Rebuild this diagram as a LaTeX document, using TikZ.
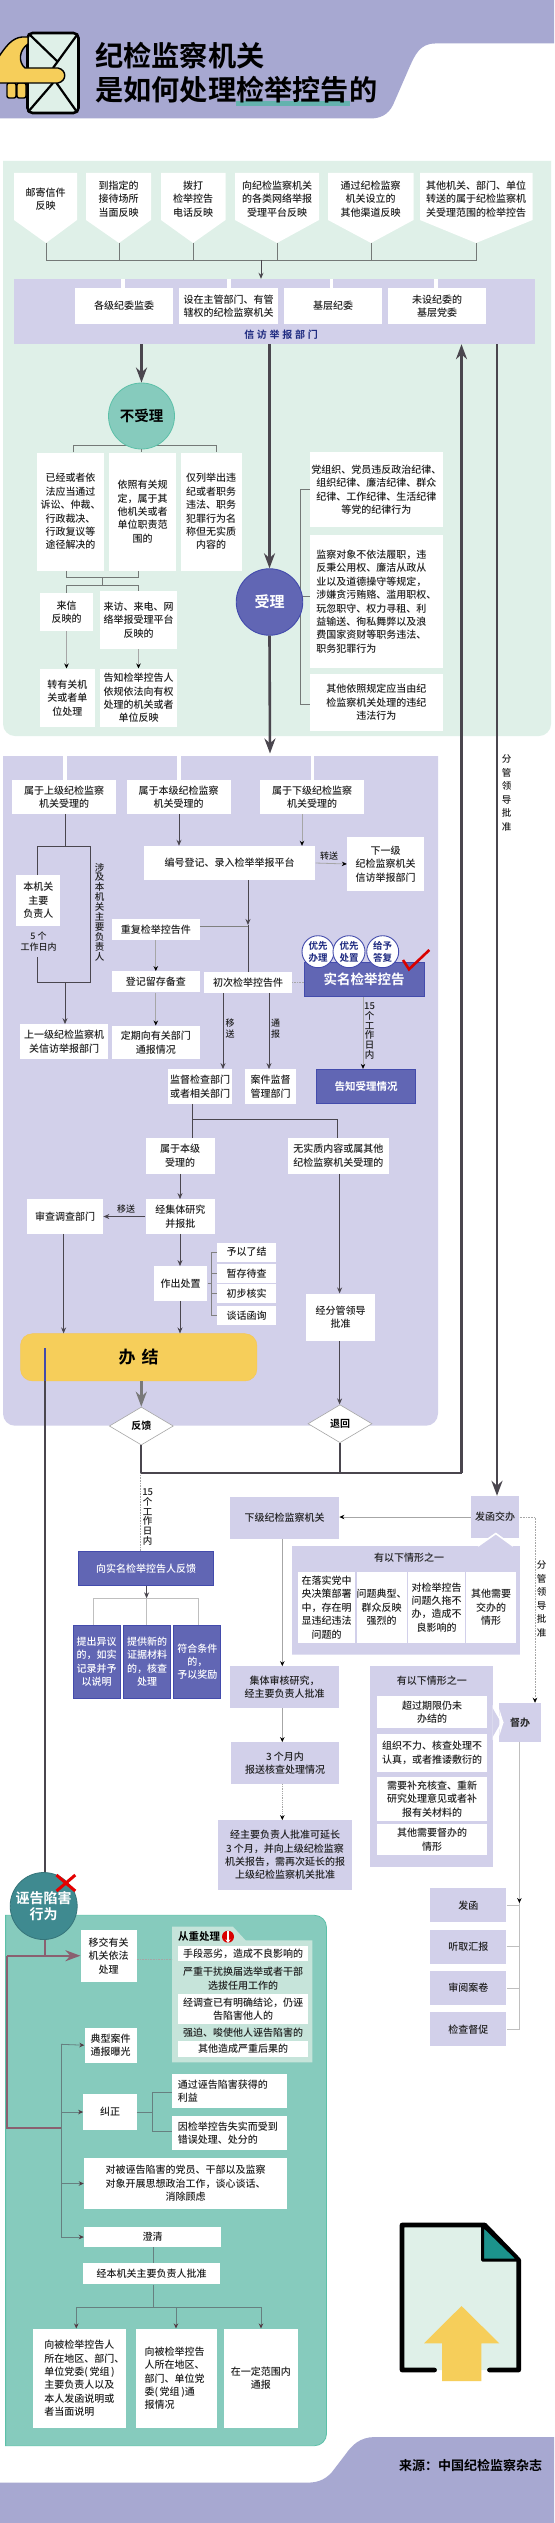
\documentclass[tikz,border=0pt]{standalone}
\usepackage{fontspec}
\setmainfont[BoldFont={Noto Sans CJK SC Bold}]{Noto Sans CJK SC Medium}
\usepackage{tikz}
\usetikzlibrary{arrows.meta, shapes.geometric, calc}
\usepackage{xcolor}

\definecolor{headfill}{HTML}{A7A8D1}
\definecolor{headedge}{HTML}{8A8AC8}
\definecolor{mintfill}{HTML}{DFF0E8}
\definecolor{lavfill}{HTML}{D2D0EA}
\definecolor{bluefill}{HTML}{6166B4}
\definecolor{blueedge}{HTML}{434BAC}
\definecolor{tealfill}{HTML}{86CBBD}
\definecolor{tealedge}{HTML}{5CC0A8}
\definecolor{palemint}{HTML}{C6E4DA}
\definecolor{goldfill}{HTML}{F6CE5A}
\definecolor{darkline}{HTML}{4A464E}
\definecolor{inkc}{HTML}{222222}
\definecolor{maroon}{HTML}{8A6070}
\definecolor{seafill}{HTML}{3F8A90}
\definecolor{navyc}{HTML}{1E2A80}

\tikzset{
  sz/.style 2 args={minimum width=#1, minimum height=#2},
  wbox/.style={fill=white},
  lbox/.style={fill=lavfill},
  bbox/.style={fill=bluefill, draw=blueedge, line width=0.9pt, text=white},
  tiny/.style={font=\fontsize{9}{11}\selectfont},
  vtext/.style={font=\fontsize{9.5}{9.9}\selectfont},
  bigarrow/.style={draw=darkline, line width=2.6pt, -{Stealth[length=15pt, width=11pt]}},
  midarrow/.style={draw=darkline, line width=1pt, -{Stealth[length=6pt, width=5pt]}},
  lightarrow/.style={draw=gray!70, line width=0.8pt, -{Stealth[length=5pt, width=4.5pt, black]}},
  thinline/.style={draw=darkline, line width=0.8pt},
  greenline/.style={draw=gray!60!mintfill!70!black, line width=0.9pt},
  dotline/.style={draw=gray!70, line width=0.6pt, densely dotted},
}

\begin{document}
\begin{tikzpicture}[x=1pt, y=-1pt,
  every node/.style={inner sep=0pt, align=center, text=inkc, font=\fontsize{10}{13.4}\selectfont}]
\useasboundingbox (0,0) rectangle (554,2523);
\fill[white] (0,0) rectangle (554,2523);

% Header band
\fill[headfill] (0,0) -- (554,0) -- (554,43.5) -- (435,43.5) .. controls (420,43.5) and (415,55) .. (410,66)
  -- (393,105) .. controls (388,115) and (380,118.5) .. (370,118.5) -- (0,118.5) -- cycle;
\fill[teal!55!mintfill] (236,101) rectangle (350,106);
\node[anchor=west, text=black, font=\fontsize{28.2}{34}\bfseries\selectfont] (title1) at (95,56) {纪检监察机关};
\node[anchor=west, text=black, font=\fontsize{28.2}{34}\bfseries\selectfont] (title2) at (95,90) {是如何处理检举控告的};

% Envelope and hand
\draw[black, line width=2.6pt, fill=mintfill, rounded corners=5pt] (27.5,33) rectangle (78.5,113);
\draw[black, line width=2.2pt] (30,35) -- (58,62) (77,35) -- (53,68) (28,112) -- (53,83) (77,112) -- (56.5,83);
\draw[black, line width=1.4pt, fill=goldfill, rounded corners=2pt] (7,83) rectangle (16,98) (17,83) rectangle (26,98);
\draw[black, line width=1.4pt, fill=goldfill] (-2,58) .. controls (6,46) and (12,38) .. (22,37) -- (28,37) -- (28,44)
  .. controls (19,50) and (18,62) .. (25,68) -- (58,68) .. controls (67,70) and (67,81) .. (58,83) -- (-2,83) -- cycle;

% Green panel
\fill[mintfill] (3,161) -- (551,161) [rounded corners=12pt] -- (551,736) -- (3,736) [sharp corners] -- cycle;

% Ways of reporting
\foreach \xa/\xb/\xt/\i in {14/77/46/1, 86/151/119/2, 161/225.5/193/3, 235/319/277/4, 328/413.5/371/5, 420/532.5/476/6} {
  \fill[white] (\xa,173) -- (\xb,173) -- (\xb,220) -- (\xt,243) -- (\xa,220) -- cycle;
  \coordinate (tip\i) at (\xt,243);
}
\node (src1) at (45.5,199) {邮寄信件\\反映};
\node (src2) at (118.5,199) {到指定的\\接待场所\\当面反映};
\node (src3) at (193.2,199) {拨打\\检举控告\\电话反映};
\node (src4) at (277,199) {向纪检监察机关\\的各类网络举报\\受理平台反映};
\node (src5) at (370.7,199) {通过纪检监察\\机关设立的\\其他渠道反映};
\node (src6) at (476.2,199) {其他机关、部门、单位\\转送的属于纪检监察机\\关受理范围的检举控告};

% Reporting department
\node[lbox, sz={521}{65}] (banner) at (274.5,311.5) {};
\foreach \xa in {121,227,329.5,434} \fill[white] (\xa,279) rectangle (\xa+3.5,288);
\node[wbox, sz={98.5}{36}] (dep1) at (124.2,306) {各级纪委监委};
\node[wbox, sz={98.5}{36}] (dep2) at (228.7,306) {设在主管部门、有管\\辖权的纪检监察机关};
\node[wbox, sz={98}{36}] (dep3) at (333,306) {基层纪委};
\node[wbox, sz={98}{36}] (dep4) at (437,306) {未设纪委的\\基层党委};
\node[text=navyc, font=\fontsize{10}{12}\bfseries\selectfont] (deplabel) at (281,334.5) {信\hspace{2.7pt}访\hspace{2.7pt}举\hspace{2.7pt}报\hspace{2.7pt}部\hspace{2.7pt}门};

% Collect the sources
\coordinate (bus) at (261,260);
\draw[greenline] (tip1) -- (tip1 |- bus) -- (tip6 |- bus) -- (tip6);
\foreach \i in {2,3,4,5} \draw[greenline] (tip\i) -- (tip\i |- bus);
\draw[midarrow] (bus) -- (bus |- banner.north);

% Not accepted
\node[wbox, sz={67}{118}] (no1) at (70.5,511.6) {已经或者依\\法应当通过\\诉讼、仲裁、\\行政裁决、\\行政复议等\\途径解决的};
\node[wbox, sz={66.5}{118}] (no2) at (142.7,511.6) {依照有关规\\定，属于其\\他机关或者\\单位职责范\\围的};
\node[wbox, sz={61}{118}] (no3) at (211,511.6) {仅列举出违\\纪或者职务\\违法、职务\\犯罪行为名\\称但无实质\\内容的};
\draw[greenline] (73,0 |- no1.north) -- (73,445) -- (216,445) -- (216,0 |- no3.north);
\node[circle, fill=tealfill, draw=tealedge, line width=0.8pt, minimum size=66pt, text=black, font=\fontsize{14.5}{16}\bfseries\selectfont] (nocase) at (141.5,416) {不受理};
\draw[greenline] (nocase.south) -- (nocase.south |- no2.north);

\node[wbox, sz={53.7}{38}] (letter) at (66.5,612) {来信\\反映的};
\node[wbox, sz={76.3}{58}] (visit) at (138.5,620) {来访、来电、网\\络举报受理平台\\反映的};
\node[wbox, sz={55.4}{58.6}] (turn) at (67.3,698) {转有关机\\关或者单\\位处理};
\node[wbox, sz={76.3}{58.6}] (tell) at (138.5,698) {告知检举控告人\\依规依法向有权\\处理的机关或者\\单位反映};
\draw[greenline] (66.5,0 |- no1.south) -- (66.5,577.5) -- (138,577.5) -- (138,0 |- no2.south);
\draw[greenline] (102,577.5) -- (102,585.3);
\draw[greenline] (letter.north) -- (66.5,585.3) -- (138,585.3) -- (138,0 |- visit.north);
\draw[lightarrow] (letter.south) -- (letter.south |- turn.north);
\draw[lightarrow] (visit.south) -- (visit.south |- tell.north);

% Accepted
\node[wbox, sz={132.8}{75}] (yes1) at (376.4,489.8) {党组织、党员违反政治纪律、\\组织纪律、廉洁纪律、群众\\纪律、工作纪律、生活纪律\\等党的纪律行为};
\node[wbox, sz={132.8}{132.4}, align=left] (yes2) at (376.4,601.5) {监察对象不依法履职，违\\反秉公用权、廉洁从政从\\业以及道德操守等规定，\\涉嫌贪污贿赂、滥用职权、\\玩忽职守、权力寻租、利\\益输送、徇私舞弊以及浪\\费国家资财等职务违法、\\职务犯罪行为};
\node[wbox, sz={132.8}{56.7}] (yes3) at (376.4,702.3) {其他依照规定应当由纪\\检监察机关处理的违纪\\违法行为};
\draw[greenline] (yes1.west) -- (300.4,0 |- yes1.west) -- (300.4,704) -- (yes3.west |- 0,704);
\draw[greenline] (300.4,596.7) -- (yes2.west |- 0,596.7);
\node[circle, fill=bluefill, draw=blueedge, line width=0.9pt, minimum size=66.5pt, text=white, font=\fontsize{15}{16}\bfseries\selectfont] (yescase) at (269.5,602) {受理};

% Main arrows of the first panel
\draw[bigarrow] (nocase.north |- banner.south) -- (nocase.north);
\draw[bigarrow] (yescase.north |- banner.south) -- (yescase.north);

% Lavender panel
\fill[lavfill] (3,756) -- (438,756) [rounded corners=12pt] -- (438,1425.7) -- (3,1425.7) [sharp corners] -- cycle;
\foreach \xa in {63,177,310.6} \fill[white] (\xa,756) rectangle (\xa+3.5,780);
\draw[bigarrow] (yescase.south) -- (270,753.5);

\node[wbox, sz={103.6}{34.3}] (upper) at (64.2,797) {属于上级纪检监察\\机关受理的};
\node[wbox, sz={104.2}{34.3}] (same) at (178.6,797) {属于本级纪检监察\\机关受理的};
\node[wbox, sz={104}{34.3}] (lower) at (312,797) {属于下级纪检监察\\机关受理的};

\node[wbox, sz={171.5}{34}] (platform) at (229.7,863) {编号登记、录入检举举报平台};
\node[wbox, sz={77}{54}] (nextdep) at (385.5,864) {下一级\\纪检监察机关\\信访举报部门};
\node[wbox, sz={44}{51}] (chief) at (38.3,900.5) {本机关\\主要\\负责人};
\node[tiny] (days5) at (38.5,942) {5 个\\工作日内};
\node[vtext] (chieflabel) at (99.6,912) {涉\\及\\本\\机\\关\\主\\要\\负\\责\\人};
\node[wbox, sz={88.5}{34.7}] (updep) at (64.2,1041.7) {上一级纪检监察机\\关信访举报部门};

\node[wbox, sz={87.6}{21}] (repeat) at (155.8,929.5) {重复检举控告件};
\node[wbox, sz={87.6}{21}] (store) at (155.8,981.8) {登记留存备查};
\node[wbox, sz={87.6}{33.6}] (notify) at (155.8,1042.5) {定期向有关部门\\通报情况};
\node[wbox, sz={88}{20.7}] (first) at (248,982.6) {初次检举控告件};

% Real name report
\node[bbox, sz={120}{34}, font=\fontsize{13.5}{15}\bfseries\selectfont] (realname) at (364,979.7) {实名检举控告};
\foreach \x/\a/\b/\n in {318/优先/办理/p1, 349/优先/处置/p2, 382.7/给予/答复/p3}
  \node[circle, fill=white, draw=blueedge, line width=0.9pt, minimum size=32pt, text=navyc, font=\fontsize{9.5}{11.5}\bfseries\selectfont] (\n) at (\x,951.7) {\a\\\b};
\draw[red!85!black, line width=2.6pt] (403,960) -- (409,969.3) -- (429.3,950);
\node[bbox, sz={99}{34.4}, font=\fontsize{10.5}{12}\bfseries\selectfont] (inform) at (366,1086.5) {告知受理情况};

\node[wbox, sz={64}{34.4}] (check) at (200,1086.5) {监督检查部门\\或者相关部门};
\node[wbox, sz={51}{34.4}] (casedep) at (270.5,1086.5) {案件监督\\管理部门};
\node[wbox, sz={69}{36}] (thislevel) at (180,1155.7) {属于本级\\受理的};
\node[wbox, sz={100.7}{36}] (nocontent) at (338.3,1155.7) {无实质内容或属其他\\纪检监察机关受理的};
\node[wbox, sz={69.4}{34.4}] (study) at (180.3,1216.5) {经集体研究\\并报批};
\node[wbox, sz={76.3}{34.4}] (review) at (65,1216.5) {审查调查部门};
\node[wbox, sz={53.4}{34.4}] (decide) at (180.7,1283.5) {作出处置};
\node[wbox, sz={58.3}{19}] (opt1) at (246.5,1252.2) {予以了结};
\node[wbox, sz={58.3}{19}] (opt2) at (246.5,1273.2) {暂存待查};
\node[wbox, sz={58.3}{19}] (opt3) at (246.5,1293.8) {初步核实};
\node[wbox, sz={58.3}{19}] (opt4) at (246.5,1315.2) {谈话函询};
\node[wbox, sz={68.2}{47.3}] (leader) at (340.5,1317.3) {经分管领导\\批准};
\node[fill=goldfill, draw=goldfill!90!orange, rounded corners=12pt, sz={236.5}{47.3}, text=black, font=\fontsize{17}{20}\bfseries\selectfont] (finish) at (138.7,1357.3) {办\hspace{6pt}结};
\node[diamond, fill=white, draw=gray!70, line width=0.6pt, sz={64}{38}, aspect=1.68, text=black, font=\fontsize{10}{12}\bfseries\selectfont] (feedback) at (141.3,1426) {反馈};
\node[diamond, fill=white, draw=gray!70, line width=0.6pt, sz={64}{38}, aspect=1.68, text=black, font=\fontsize{10}{12}\bfseries\selectfont] (giveback) at (340,1423.7) {退回};

% Connectors of the lavender panel
\coordinate (uppertop) at (65,846);
\draw[thinline] (upper.south -| uppertop) -- (uppertop);
\draw[thinline] (37.8,875) -- (37.8,846) -- (90.8,846) -- (90.8,982) -- (37.8,982) -- (37.8,957);
\draw[midarrow] (65,982) -- (65,0 |- updep.north);
\draw[midarrow] (same.south -| 179,0) -- (179,0 |- platform.north);
\draw[lightarrow] (302,0 |- lower.south) -- (302,0 |- platform.north);
\draw[lightarrow] (platform.east) -- (nextdep.west);
\node[tiny] (sendlabel) at (329,856) {转送};
\draw[midarrow] (248,0 |- platform.south) -- (248,925);
\draw[thinline] (248,925) -- (first.north);
\draw[thinline, draw=gray] (repeat.east |- 0,926.7) -- (248,926.7);
\draw[lightarrow] (repeat.south) -- (store.north);
\draw[lightarrow] (store.south) -- (notify.north);
\draw[dotline] (first.east) -- (realname.west |- first.east);
\draw[midarrow] (223,0 |- first.south) -- (223,0 |- check.north);
\draw[midarrow] (269,0 |- first.south) -- (269,0 |- casedep.north);
\node[tiny] (movelabel) at (230,1028.5) {移\\送};
\node[tiny] (reportlabel) at (275.6,1028.5) {通\\报};
\draw[lightarrow] (363,0 |- realname.south) -- (363,0 |- inform.north);
\node[vtext] (days15a) at (369.6,1031) {15\\个\\工\\作\\日\\内};
\draw[thinline] (192,0 |- check.south) -- (192,0 |- thislevel.north);
\draw[thinline] (192,1119.7) -- (337.8,1119.7) -- (337.8,0 |- nocontent.north);
\draw[midarrow] (180,0 |- thislevel.south) -- (180,0 |- study.north);
\draw[midarrow] (study.west) -- (review.east);
\node[tiny] (movelabel2) at (126,1209) {移送};
\draw[midarrow] (63.6,0 |- review.south) -- (63.6,0 |- finish.north);
\draw[midarrow] (180,0 |- study.south) -- (180,0 |- decide.north);
\draw[midarrow] (180,0 |- decide.south) -- (180,0 |- finish.north);
\draw[thinline, draw=gray] (decide.east) -- (211.7,0 |- decide.east);
\draw[thinline, draw=gray] (opt1.west) -- (211.7,0 |- opt1.west) -- (211.7,0 |- opt4.west) -- (opt4.west);
\draw[thinline, draw=gray] (211.7,0 |- opt2.west) -- (opt2.west);
\draw[thinline, draw=gray] (211.7,0 |- opt3.west) -- (opt3.west);
\draw[midarrow] (339.6,0 |- nocontent.south) -- (339.6,0 |- leader.north);
\draw[midarrow] (339.6,0 |- leader.south) -- (339.6,0 |- giveback.north);
\draw[bigarrow, draw=gray!95!black] (141.3,0 |- finish.south) -- (feedback.north);

% Long lines at the right
\coordinate (joinleft) at (140.6,1473.3);
\coordinate (joinright) at (461.5,1473.3);
\draw[draw=darkline, line width=2.2pt] (feedback.south -| joinleft) -- (joinleft) -- (joinright);
\draw[draw=darkline, line width=2.2pt] (giveback.south) -- (giveback.south |- joinleft);
\draw[bigarrow] (joinright) -- (joinright |- banner.south);

% Feedback to the reporter
\node[bbox, sz={135.4}{34}] (tellreal) at (146,1568.3) {向实名检举控告人反馈};
\node[bbox, sz={47.5}{73.3}] (fb1) at (96.7,1661.7) {提出异议\\的，如实\\记录并予\\以说明};
\node[bbox, sz={46.6}{73.3}] (fb2) at (147,1661.7) {提供新的\\证据材料\\的，核查\\处理};
\node[bbox, sz={47}{73.3}] (fb3) at (197.3,1661.7) {符合条件\\的，\\予以奖励};
\draw[dotline] (joinleft) -- (joinleft |- tellreal.north);
\node[vtext] (days15b) at (147.7,1517) {15\\个\\工\\作\\日\\内};
\coordinate (fbsplit) at (146.6,1598.3);
\draw[midarrow] (tellreal.south -| fbsplit) -- (fbsplit);
\draw[draw=gray!50, line width=1.1pt] (93.6,0 |- fb1.north) -- (93.6,1598.3) -- (198.6,1598.3) -- (198.6,0 |- fb3.north);
\draw[draw=gray!50, line width=1.1pt] (fbsplit) -- (fb2.north -| fbsplit);

% Hand over to lower level
\node[lbox, sz={48.4}{42}] (handover) at (495.2,1517) {发函交办};
\node[lbox, sz={109.2}{41.7}] (lowerorg) at (284.6,1517.8) {下级纪检监察机关};
\draw[bigarrow] (497,0 |- banner.south) -- (497,0 |- handover.north);
\node[vtext, font=\fontsize{9.5}{13.5}\selectfont] (approve1) at (506.7,793) {分\\管\\领\\导\\批\\准};
\draw[lightarrow] (handover.west) -- (lowerorg.east |- handover.west);

\fill[lavfill] (292,1546) -- (478,1546) -- (495.8,1534) -- (513,1546) -- (519.8,1546) -- (519.8,1654.7) -- (292,1654.7) -- cycle;
\draw[white, line width=1.6pt] (478,1546) -- (495.8,1533.5) -- (513,1546);
\node (caseA) at (409,1557.7) {有以下情形之一};
\node[wbox, sz={57}{70.7}] (a1) at (326.5,1607.4) {在落实党中\\央决策部署\\中，存在明\\显违纪违法\\问题的};
\node[wbox, sz={50.2}{70.7}] (a2) at (381.6,1607.4) {问题典型、\\群众反映\\强烈的};
\node[wbox, sz={57}{70.7}] (a3) at (436.5,1607.4) {对检举控告\\问题久拖不\\办，造成不\\良影响的};
\node[wbox, sz={50}{70.7}] (a4) at (491,1607.4) {其他需要\\交办的\\情形};

\node[lbox, sz={109.2}{41.7}] (collective) at (284.6,1687.2) {集体审核研究，\\经主要负责人批准};
\node[lbox, sz={108}{41.4}] (report3m) at (285,1763) {3 个月内\\报送核查处理情况};
\node[lbox, sz={134.6}{69.4}] (extend) at (285,1855) {经主要负责人批准可延长\\3 个月，并向上级纪检监察\\机关报告，需再次延长的报\\上级纪检监察机关批准};
\draw[lightarrow] (282.3,0 |- lowerorg.south) -- (282.3,0 |- collective.north);
\draw[lightarrow] (282.3,0 |- collective.south) -- (282.3,0 |- report3m.north);
\draw[lightarrow, densely dotted] (282.3,0 |- report3m.south) -- (282.3,0 |- extend.north);

% Supervision
\fill[lavfill] (370,1666) rectangle (492.6,1867);
\node (caseB) at (431.8,1680.7) {有以下情形之一};
\node[wbox, sz={110}{32}] (b1) at (432,1712.3) {超过期限仍未\\办结的};
\node[wbox, sz={110}{38}] (b2) at (432,1752.7) {组织不力、核查处理不\\认真，或者推诿敷衍的};
\node[wbox, sz={110}{43.7}] (b3) at (432,1799) {需要补充核查、重新\\研究处理意见或者补\\报有关材料的};
\node[wbox, sz={110}{31.3}] (b4) at (432,1839.7) {其他需要督办的\\情形};
\node[lbox, sz={41.7}{38.7}, font=\fontsize{10}{12}\bfseries\selectfont] (superv) at (520,1722.3) {督办};
\fill[white] (492.6,1705) -- (503.5,1722.5) -- (492.6,1740) -- cycle;
\fill[lavfill] (492.6,1708) -- (501,1722.5) -- (492.6,1737) -- cycle;
\fill[white] (499.3,1709) -- (503.5,1722.5) -- (499.3,1736) -- cycle;
\coordinate (rightdrop) at (535,1517);
\draw[dotline] (handover.east) -- (rightdrop) -- (535,1690);
\draw[dotline, -{Stealth[length=5pt, width=4.5pt, black]}] (535,1690) -- (535,0 |- superv.north);
\node[vtext, font=\fontsize{9.5}{13.5}\selectfont] (approve2) at (541.7,1598.7) {分\\管\\领\\导\\批\\准};

\node[lbox, sz={76}{34}] (w1) at (468.3,1905.3) {发函};
\node[lbox, sz={76}{34}] (w2) at (468.3,1946.7) {听取汇报};
\node[lbox, sz={76}{34}] (w3) at (468.3,1988) {审阅案卷};
\node[lbox, sz={76}{34}] (w4) at (468.3,2029.3) {检查督促};
\coordinate (wbar) at (519.4,1905.3);
\draw[draw=gray!50, line width=1pt] (superv.south -| wbar) -- (wbar |- w4.east) -- (w4.east);
\draw[draw=gray!50, line width=1pt] (w1.east) -- (w1.east -| wbar);
\draw[draw=gray!50, line width=1pt] (w2.east) -- (w2.east -| wbar);
\draw[draw=gray!50, line width=1pt] (w3.east) -- (w3.east -| wbar);
\draw[lightarrow, draw=gray!50] (wbar |- superv.south) -- (519.4,1903);

% Teal panel
\path[fill=tealfill, draw=tealedge, line width=0.8pt] (5.6,2445.7) -- (5.6,1915.3) [rounded corners=12pt] -- (326.5,1915.3) -- (326.5,2445.7) [sharp corners] -- cycle;
\node[circle, fill=seafill, draw=seafill!85!black, line width=0.8pt, minimum size=67pt, text=white, font=\fontsize{14}{15.5}\bfseries\selectfont] (slander) at (43.7,1906) {诬告陷害\\行为};
\draw[red!90!black, line width=3pt] (56.5,1875) -- (75.3,1891) (75.3,1875) -- (56.5,1891);
\draw[draw=blueedge, line width=1.8pt] (45,1348) -- (45,0 |- finish.south);
\draw[draw=darkline, line width=1.8pt] (45,0 |- finish.south) -- (45,0 |- slander.north);

\node[wbox, sz={56}{51.4}] (moveorg) at (108.6,1956) {移交有关\\机关依法\\处理};
\node[wbox, sz={52.2}{35}] (typical) at (110.6,2045.2) {典型案件\\通报曝光};
\node[wbox, sz={53.3}{35.4}] (correct) at (110,2112) {纠正};
\node[wbox, sz={114.6}{34.3}, align=left, text width=103pt] (cor1) at (229.3,2091.2) {通过诬告陷害获得的\\利益};
\node[wbox, sz={114.6}{34}, align=left, text width=103pt] (cor2) at (229.3,2133) {因检举控告失实而受到\\错误处理、处分的};
\node[wbox, sz={203.3}{51}] (talk) at (185.6,2183.5) {对被诬告陷害的党员、干部以及监察\\对象开展思想政治工作，谈心谈话、\\消除顾虑};
\node[wbox, sz={137.2}{19.7}] (clear) at (152.6,2237) {澄清};
\node[wbox, sz={137}{21.3}] (approve3) at (151.5,2273.7) {经本机关主要负责人批准};
\node[wbox, sz={92.9}{99.3}] (out1) at (79.3,2378.3) {\parbox{70pt}{\raggedright 向被检举控告人\\所在地区、部门、\\单位党委(\,党组\,)\\主要负责人以及\\本人发函说明或\\者当面说明}};
\node[wbox, sz={80.2}{99.3}] (out2) at (176.5,2378.3) {\parbox{64pt}{\raggedright 向被检举控告\\人所在地区、\\部门、单位党\\委(\,党组\,)通\\报情况}};
\node[wbox, sz={74.3}{99.3}] (out3) at (260.8,2378.3) {在一定范围内\\通报};

% From the circle
\coordinate (redjoin) at (45,1955.7);
\coordinate (redleft) at (7,1955.7);
\coordinate (redlow) at (61,2127.7);
\draw[draw=maroon, line width=2.4pt] (slander.south -| redjoin) -- (redjoin);
\draw[draw=maroon, line width=2.4pt, -{Stealth[length=15pt, width=11pt]}] (redleft) -- (moveorg.west |- redleft);
\draw[draw=maroon, line width=2.4pt] (redleft) -- (7,2127.7) -- (redlow);

% Branches to the measures
\tikzset{branch/.style={draw=gray!80!teal, line width=0.8pt, -{Stealth[length=5pt, width=4.5pt, maroon!60!black]}}}
\coordinate (trunk) at (61,2044.3);
\draw[draw=gray!80!teal, line width=0.8pt] (trunk) -- (61,2237);
\draw[branch] (trunk) -- (typical.west);
\draw[branch] (61,0 |- correct.west) -- (correct.west);
\draw[branch] (61,0 |- talk.west) -- (talk.west);
\draw[branch] (61,0 |- clear.west) -- (clear.west);
\draw[draw=gray!80!teal, line width=0.8pt] (correct.east) -- (152.6,0 |- correct.east);
\draw[draw=gray!80!teal, line width=0.8pt] (cor1.west |- 0,2092.7) -- (152.6,2092.7) -- (152.6,2131) -- (cor2.west |- 0,2131);
\draw[draw=gray!80!teal, line width=0.8pt] (153,0 |- clear.south) -- (153,0 |- approve3.north);
\coordinate (outbar) at (153,2307);
\draw[draw=gray!80!teal, line width=0.8pt] (153,0 |- approve3.south) -- (outbar);
\draw[draw=gray!80!teal, line width=0.8pt] (76.3,2307) -- (261,2307);
\draw[branch] (76.3,2307) -- (76.3,0 |- out1.north);
\draw[branch] (176,2307) -- (176,0 |- out2.north);
\draw[branch] (261,2307) -- (261,0 |- out3.north);

% Heavier handling
\fill[palemint] (172,1926.7) -- (233,1926.7) -- (245.6,1940.3) -- (312.4,1940.3) -- (312.4,2062.3) -- (172,2062.3) -- cycle;
\node[text=black, font=\fontsize{10.5}{12}\bfseries\selectfont] (heavy) at (199,1936.7) {从重处理};
\node[circle, fill=red!85!black, minimum size=12pt] (heavyicon) at (228,1936.7) {};
\draw[white, line width=1.2pt, -{Stealth[length=3.5pt, width=5pt]}] (heavyicon.north) -- (heavyicon.south);
\node[wbox, sz={129.8}{15.3}] (h1) at (243,1953.7) {手段恶劣，造成不良影响的};
\node (h2) at (243,1978.7) {严重干扰换届选举或者干部\\选拔任用工作的};
\node[wbox, sz={129.8}{30}] (h3) at (243,2009) {经调查已有明确结论，仍诬\\告陷害他人的};
\node (h4) at (243,2033) {强迫、唆使他人诬告陷害的};
\node[wbox, sz={129.8}{16}] (h5) at (243,2049) {其他造成严重后果的};
\draw[dotline] (moveorg.east |- 0,1959) -- (172,1959);

% Document icon
\fill[mintfill] (402,2225) -- (484.8,2225) -- (518.7,2258.3) -- (518.7,2370) -- (402,2370) -- cycle;
\draw[black, line width=4.6pt, line cap=round, line join=round] (434.6,2370) -- (402,2370) -- (402,2225) -- (484.8,2225) -- (518.7,2260) -- (518.7,2370) -- (489.4,2370);
\draw[black, line width=3pt, line join=round, fill=teal!70!tealedge] (482.5,2225) -- (482.5,2260) -- (518.7,2260) -- cycle;
\fill[goldfill] (461.5,2306) -- (499.3,2343.3) -- (481.3,2343.3) -- (481.3,2381) -- (442,2381) -- (442,2343.3) -- (424,2343.3) -- cycle;

% Bottom band
\fill[headfill] (554,2437) -- (375,2437) .. controls (360,2437) and (352,2445) .. (345,2455)
  -- (332,2472) .. controls (324,2481) and (316,2482.7) .. (305,2482.7) -- (0,2482.7) -- (0,2523) -- (554,2523) -- cycle;
\node[anchor=west, text=black, font=\fontsize{13}{15}\bfseries\selectfont] (source) at (399,2465.7) {来源：中国纪检监察杂志};
\end{tikzpicture}
\end{document}
